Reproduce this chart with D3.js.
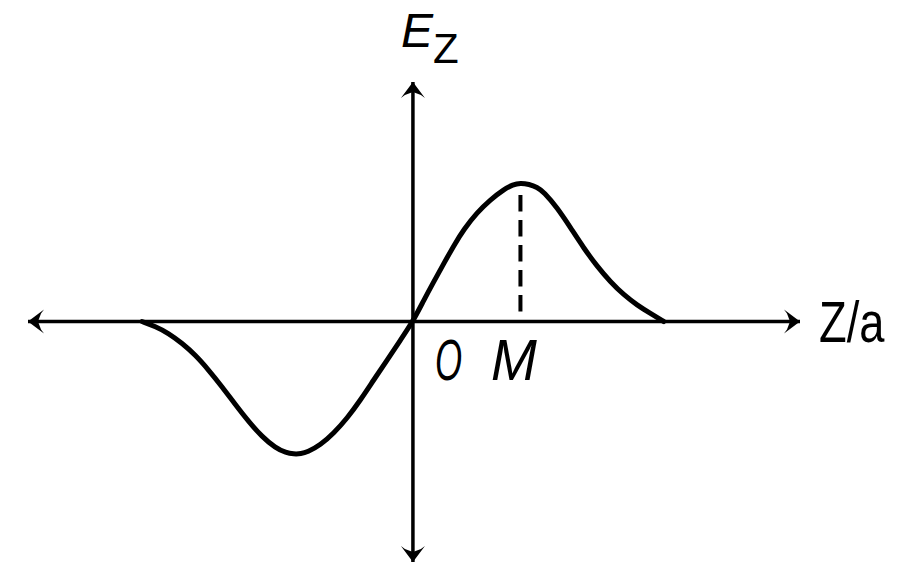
<!DOCTYPE html>
<html>
<head>
<meta charset="utf-8">
<script src="https://cdn.jsdelivr.net/npm/d3@7/dist/d3.min.js"></script>
<style>
  html, body { margin: 0; padding: 0; background: #fff; }
  svg { display: block; }
  text { font-family: "Liberation Sans", Arial, sans-serif; fill: #000; }
</style>
</head>
<body>
<svg id="chart" width="900" height="574"></svg>
<script>
// Data: z/a positions and E_z values (E_z normalised to peak = 1, M at z = 1)
const curveZ = [-2.52, -2.395, -2.272, -2.147, -2.023, -1.900, -1.775, -1.651, -1.527, -1.403, -1.279,
  -1.180, -1.109, -1.040, -0.984, -0.860, -0.737, -0.612, -0.488, -0.365, -0.240, -0.116, 0,
  0.100, 0.193, 0.287, 0.380, 0.473, 0.597, 0.721, 0.845, 0.930, 1.000, 1.080, 1.155, 1.217, 1.341, 1.465, 1.589,
  1.713, 1.837, 1.961, 2.086, 2.209, 2.333];
const curveE = [0, -0.036, -0.085, -0.157, -0.242, -0.350, -0.471, -0.600, -0.723, -0.832, -0.912,
  -0.948, -0.957, -0.955, -0.944, -0.892, -0.807, -0.699, -0.567, -0.422, -0.278, -0.134, 0,
  0.152, 0.287, 0.418, 0.548, 0.665, 0.787, 0.880, 0.953, 0.989, 1.000, 0.991, 0.970, 0.935, 0.822, 0.678, 0.530,
  0.398, 0.286, 0.192, 0.118, 0.058, 0];
const xExtent = [-3.58, 3.6];     // horizontal axis extent (z/a)
const yExtent = [-1.736, 1.729];  // vertical axis extent (E_z)
const markM = { z: 1.0, top: 0.913 };
const labels = { yAxis: "E", ySub: "Z", xAxis: "Z/a", origin: "O", m: "M" };

const svg = d3.select("#chart");
const x = d3.scaleLinear().domain(xExtent).range([28, 800]);
const y = d3.scaleLinear().domain(yExtent).range([562, 82]);

// arrow marker
const defs = svg.append("defs");
defs.append("marker")
  .attr("id", "arrow")
  .attr("markerUnits", "userSpaceOnUse")
  .attr("viewBox", "-18 -14 20 28")
  .attr("refX", 0).attr("refY", 0)
  .attr("markerWidth", 20).attr("markerHeight", 28)
  .attr("orient", "auto-start-reverse")
  .append("path")
  .attr("d", "M0,0 L-16,-12 L-13,-8 L-10,0 L-13,8 L-16,12 Z")
  .attr("fill", "#000");

// axes
svg.append("line")
  .attr("x1", x(xExtent[0])).attr("x2", x(xExtent[1]))
  .attr("y1", y(0)).attr("y2", y(0))
  .attr("stroke", "#000").attr("stroke-width", 3.5)
  .attr("marker-start", "url(#arrow)").attr("marker-end", "url(#arrow)");
svg.append("line")
  .attr("x1", x(0)).attr("x2", x(0))
  .attr("y1", y(yExtent[0])).attr("y2", y(yExtent[1]))
  .attr("stroke", "#000").attr("stroke-width", 3.5)
  .attr("marker-start", "url(#arrow)").attr("marker-end", "url(#arrow)");

// dashed line at M
svg.append("line")
  .attr("x1", x(markM.z)).attr("x2", x(markM.z))
  .attr("y1", y(markM.top)).attr("y2", y(0))
  .attr("stroke", "#000").attr("stroke-width", 4)
  .attr("stroke-dasharray", "16.5,8.5");

// curve
const pts = curveZ.map((z, i) => [z, curveE[i]]);
svg.append("path")
  .datum(pts)
  .attr("fill", "none")
  .attr("stroke", "#000")
  .attr("stroke-width", 5)
  .attr("stroke-linejoin", "round")
  .attr("stroke-linecap", "round")
  .attr("d", d3.line().x(d => x(d[0])).y(d => y(d[1])).curve(d3.curveBasis));

// labels
svg.append("text").attr("x", 401).attr("y", 47)
  .attr("font-size", 48).attr("font-style", "italic").text(labels.yAxis);
svg.append("text").attr("x", 433).attr("y", 63)
  .attr("font-size", 42).text(labels.ySub);
svg.append("text").attr("transform", "translate(819,342) scale(0.78,1)")
  .attr("font-size", 58).text(labels.xAxis);
svg.append("text").attr("transform", "translate(435,380) scale(0.6,1)")
  .attr("font-size", 58).attr("font-style", "italic").text(labels.origin);
svg.append("text").attr("transform", "translate(491,380) scale(0.95,1)")
  .attr("font-size", 58).attr("font-style", "italic").text(labels.m);
</script>
</body>
</html>
